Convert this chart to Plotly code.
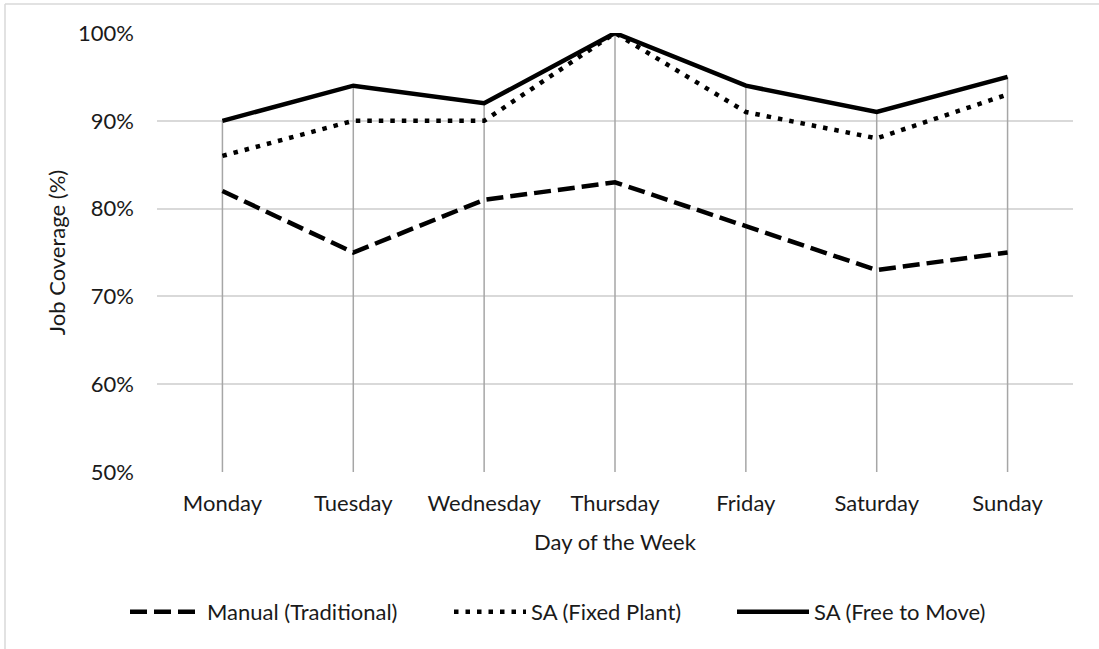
import plotly.graph_objects as go

days = ["Monday", "Tuesday", "Wednesday", "Thursday", "Friday", "Saturday", "Sunday"]
manual = [82, 75, 81, 83, 78, 73, 75]
fixed_plant = [86, 90, 90, 100, 91, 88, 93]
free_to_move = [90, 94, 92, 100, 94, 91, 95]
y_ticks = [50, 60, 70, 80, 90, 100]
y_tick_text = [f"{v}%" for v in y_ticks]

W, H = 1099, 649
L, R, T, B = 157, 26, 33, 177
FONT = "Lato"
TEXT = "#1a1a1a"

pw = W - L - R
ph = H - T - B
def px_x(p):
    return (p - L) / pw
def px_y(p):
    return (H - B - p) / ph

fig = go.Figure()

# gray drop lines from the highest series down to the axis floor
top = [max(a, b, c) for a, b, c in zip(manual, fixed_plant, free_to_move)]
dx, dy = [], []
for d, v in zip(days, top):
    dx += [d, d, None]
    dy += [y_ticks[0], v, None]
fig.add_trace(go.Scatter(x=dx, y=dy, mode="lines", showlegend=False,
                         line=dict(color="#a6a6a6", width=1.5), hoverinfo="skip"))

fig.add_trace(go.Scatter(x=days, y=manual, mode="lines", name="Manual (Traditional)",
                         line=dict(color="black", width=4.5, dash="17px,7px"),
                         cliponaxis=False, legend="legend"))
fig.add_trace(go.Scatter(x=days, y=fixed_plant, mode="lines", name="SA (Fixed Plant)",
                         line=dict(color="black", width=4.5, dash="4.5px,7px"),
                         cliponaxis=False, legend="legend2"))
fig.add_trace(go.Scatter(x=days, y=free_to_move, mode="lines", name="SA (Free to Move)",
                         line=dict(color="black", width=4.5),
                         cliponaxis=False, legend="legend3"))

# outer chart frame (left and top edges)
fig.add_shape(type="line", xref="paper", yref="paper",
              x0=px_x(5), x1=px_x(5), y0=px_y(4), y1=px_y(660),
              line=dict(color="#d9d9d9", width=1.5))
fig.add_shape(type="line", xref="paper", yref="paper",
              x0=px_x(5), x1=px_x(1110), y0=px_y(4), y1=px_y(4),
              line=dict(color="#d9d9d9", width=1.5))

legend_common = dict(orientation="h", xanchor="left", yanchor="middle",
                     y=px_y(612), font=dict(size=22, color=TEXT),
                     bgcolor="rgba(0,0,0,0)", borderwidth=0)

fig.update_layout(
    width=W, height=H,
    margin=dict(l=L, r=R, t=T, b=B),
    paper_bgcolor="white", plot_bgcolor="white",
    font=dict(family=FONT, size=22, color=TEXT),
    xaxis=dict(type="category", range=[-0.5, 6.5], showgrid=False, zeroline=False,
               showline=False, ticks="", ticklabelstandoff=16,
               title=dict(text="Day of the Week", standoff=19, font=dict(size=22))),
    yaxis=dict(range=[50, 100], tickmode="array", tickvals=y_ticks, ticktext=y_tick_text,
               showgrid=True, gridcolor="#d9d9d9", gridwidth=1.5, zeroline=False,
               showline=False, ticks="", ticklabelstandoff=22,
               title=dict(text="Job Coverage (%)", standoff=6, font=dict(size=22))),
    legend=dict(x=px_x(125), itemwidth=72, **legend_common),
    legend2=dict(x=px_x(449), itemwidth=72, **legend_common),
    legend3=dict(x=px_x(732), itemwidth=72, **legend_common),
    showlegend=True,
)

fig.write_html("out.html")
